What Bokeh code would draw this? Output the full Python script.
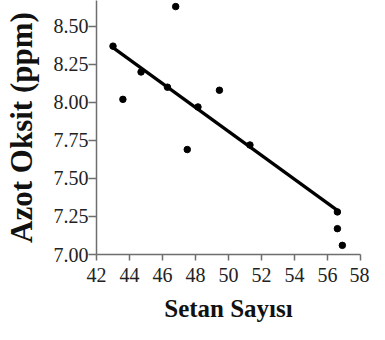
from bokeh.plotting import figure
from bokeh.models import Range1d, FixedTicker
from bokeh.embed import file_html
from bokeh.resources import INLINE

# data
setan = [43.0, 43.6, 44.7, 46.3, 46.8, 47.5, 48.15, 49.45, 51.3, 56.6, 56.6, 56.9]
azot = [8.37, 8.02, 8.20, 8.10, 8.63, 7.69, 7.97, 8.08, 7.72, 7.28, 7.17, 7.06]
fit_x = [43.0, 56.6]
fit_y = [8.36, 7.29]
x_ticks = [42, 44, 46, 48, 50, 52, 54, 56, 58]
y_ticks = [7.00, 7.25, 7.50, 7.75, 8.00, 8.25, 8.50]
y_labels = {7.0: "7.00", 7.25: "7.25", 7.5: "7.50", 7.75: "7.75", 8.0: "8.00", 8.25: "8.25", 8.5: "8.50"}

p = figure(width=369, height=324, output_backend="svg", toolbar_location=None,
           x_range=Range1d(42, 58), y_range=Range1d(7.0, 8.67),
           min_border_left=93, min_border_right=9, min_border_top=0, min_border_bottom=70)
p.outline_line_color = None
p.grid.visible = False
p.background_fill_color = "white"

p.line(fit_x, fit_y, line_color="black", line_width=3.2)
p.scatter(setan, azot, size=6.5, fill_color="black", line_color="black")

font = "Liberation Serif"
axes = [p.xaxis[0], p.yaxis[0]]
for ax in axes:
    ax.axis_line_color = "#6e6e6e"
    ax.axis_line_width = 1.5
    ax.major_tick_line_color = "#6e6e6e"
    ax.major_tick_line_width = 1.5
    ax.major_tick_in = 0
    ax.major_tick_out = 8
    ax.minor_tick_line_color = None
    ax.major_label_text_font = font
    ax.major_label_text_font_style = "normal"
    ax.major_label_text_font_size = "20px"
    ax.major_label_text_color = "#222222"
    ax.axis_label_text_font = font
    ax.axis_label_text_font_style = "bold"
    ax.axis_label_text_color = "#111111"

xa, ya = axes
xa.major_tick_out = 6
xa.ticker = FixedTicker(ticks=x_ticks)
ya.ticker = FixedTicker(ticks=y_ticks)
ya.major_label_overrides = y_labels
xa.axis_label = "Setan Sayısı"
ya.axis_label = "Azot Oksit (ppm)"
xa.axis_label_text_font_size = "25px"
ya.axis_label_text_font_size = "31px"
xa.major_label_standoff = 7
ya.major_label_standoff = 0
xa.axis_label_standoff = 10
ya.axis_label_standoff = 12

open("out.html", "w").write(file_html(p, INLINE))
